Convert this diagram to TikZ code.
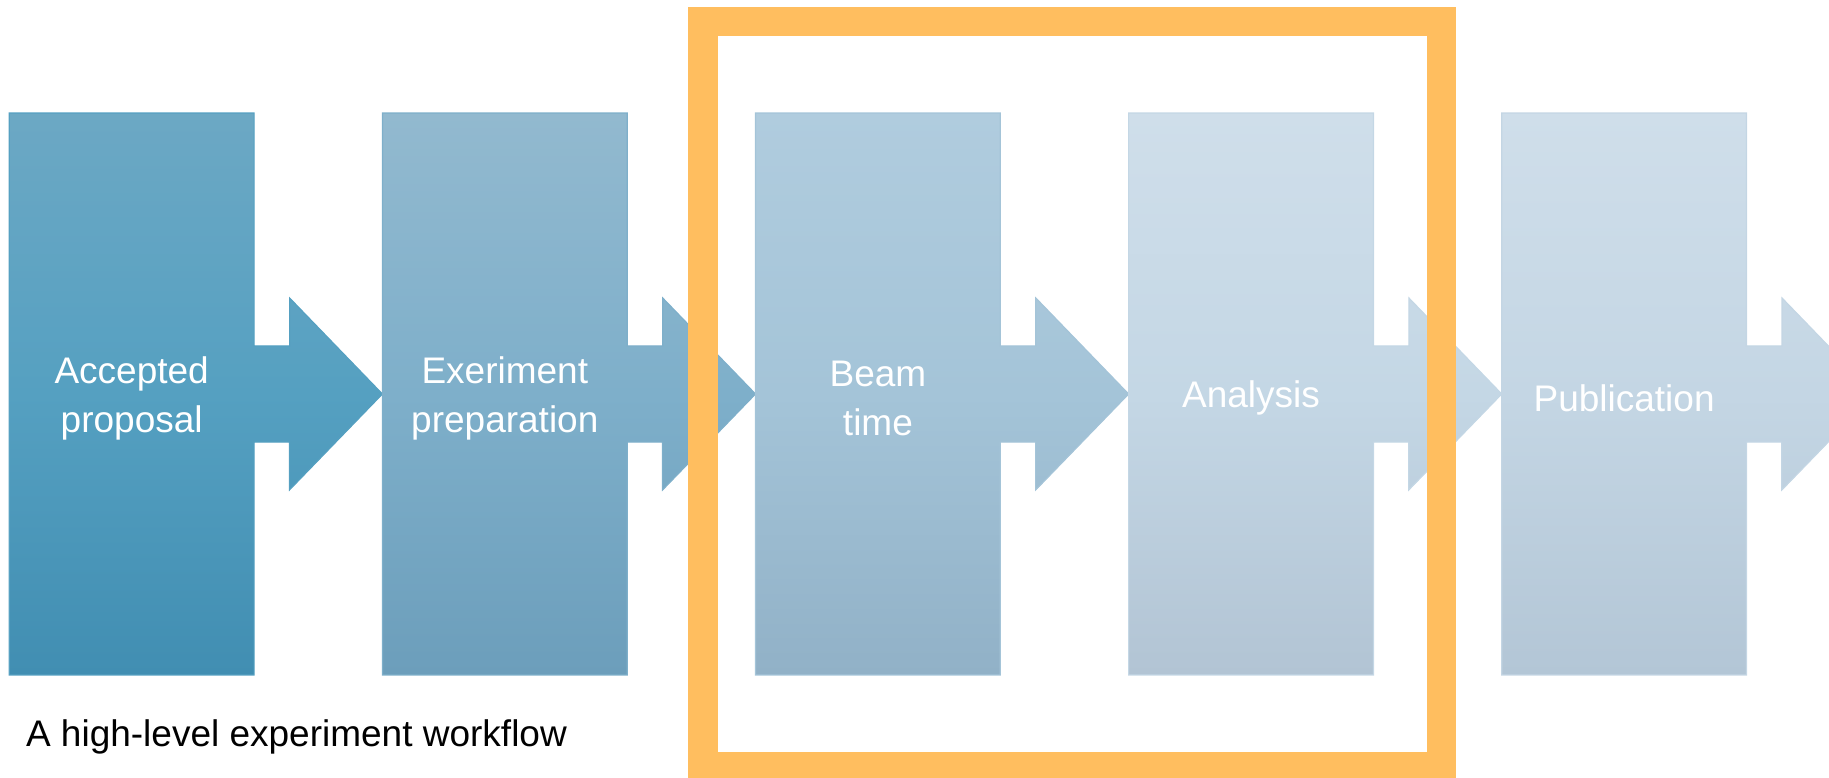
\documentclass[tikz,border=0pt]{standalone}
\usepackage{fontspec}
\setmainfont{Liberation Sans}
\usepackage{tikz}
\usetikzlibrary{positioning,calc,backgrounds}
\definecolor{stAhi}{HTML}{6CA8C4}
\definecolor{stAmd}{HTML}{55A0C1}
\definecolor{stAlo}{HTML}{418EB2}
\definecolor{stBhi}{HTML}{92B9CF}
\definecolor{stBmd}{HTML}{7EAFCA}
\definecolor{stBlo}{HTML}{6C9EBB}
\definecolor{stChi}{HTML}{B0CCDE}
\definecolor{stCmd}{HTML}{A4C4D8}
\definecolor{stClo}{HTML}{91B1C7}
\definecolor{stDhi}{HTML}{CFDEEA}
\definecolor{stDmd}{HTML}{C4D7E5}
\definecolor{stDlo}{HTML}{B2C4D4}
\definecolor{stEhi}{HTML}{CFDEEA}
\definecolor{stEmd}{HTML}{C4D6E4}
\definecolor{stElo}{HTML}{B3C6D6}
\definecolor{wforange}{HTML}{FFBE5F}

\begin{document}
\begin{tikzpicture}[x=0.5pt, y=0.5pt,
      stage/.style={minimum width=122pt, minimum height=280.5pt, inner sep=0pt},
      tag/.style={align=center, text=white, yshift=-2pt, font=\fontsize{18.5}{24.5}\selectfont},
      focus/.style={draw=wforange, line width=14.75pt},
      caption/.style={anchor=base west, text=black, font=\fontsize{18.5}{22}\selectfont},
      node distance=64.15pt]
    \useasboundingbox (0,0) rectangle (1829,777);
    \node[stage, label={[tag]center:{Accepted\\proposal}}] (acc) at (131.7,383) {};
    \node[stage, right=of acc, label={[tag]center:{Exeriment\\preparation}}] (prep) {};
    \node[stage, right=of prep, label={[tag]center:{Beam\\time}}] (beam) {};
    \node[stage, right=of beam, label={[tag]center:Analysis}] (ana) {};
    \node[stage, right=of ana, label={[tag]center:Publication}] (pub) {};
    \coordinate (out) at ($(pub.east)+(128.3,0)$);
    \begin{scope}[on background layer]
      \foreach \a/\b/\hi/\md/\lo in {acc/prep.west/stAhi/stAmd/stAlo, prep/beam.west/stBhi/stBmd/stBlo,
          beam/ana.west/stChi/stCmd/stClo, ana/pub.west/stDhi/stDmd/stDlo, pub/out/stEhi/stEmd/stElo}
        \shade[top color=\hi, bottom color=\lo, middle color=\md, draw=\md, line width=0.6pt]
          (\a.north west) -- (\a.north east) -- ($(\a.east)+(0,48)$) -- ++(35.5,0) -- ++(0,48)
          -- (\b) -- ++(-93,-96) -- ++(0,48) -- ++(-35.3,0) -- (\a.south east) -- (\a.south west) -- cycle;
    \end{scope}
    \draw[focus] (703,10.5) rectangle (1441.7,755.5);
    \node[caption] (note) at (19,31) {A high-level experiment workflow};
  \end{tikzpicture}
\end{document}
